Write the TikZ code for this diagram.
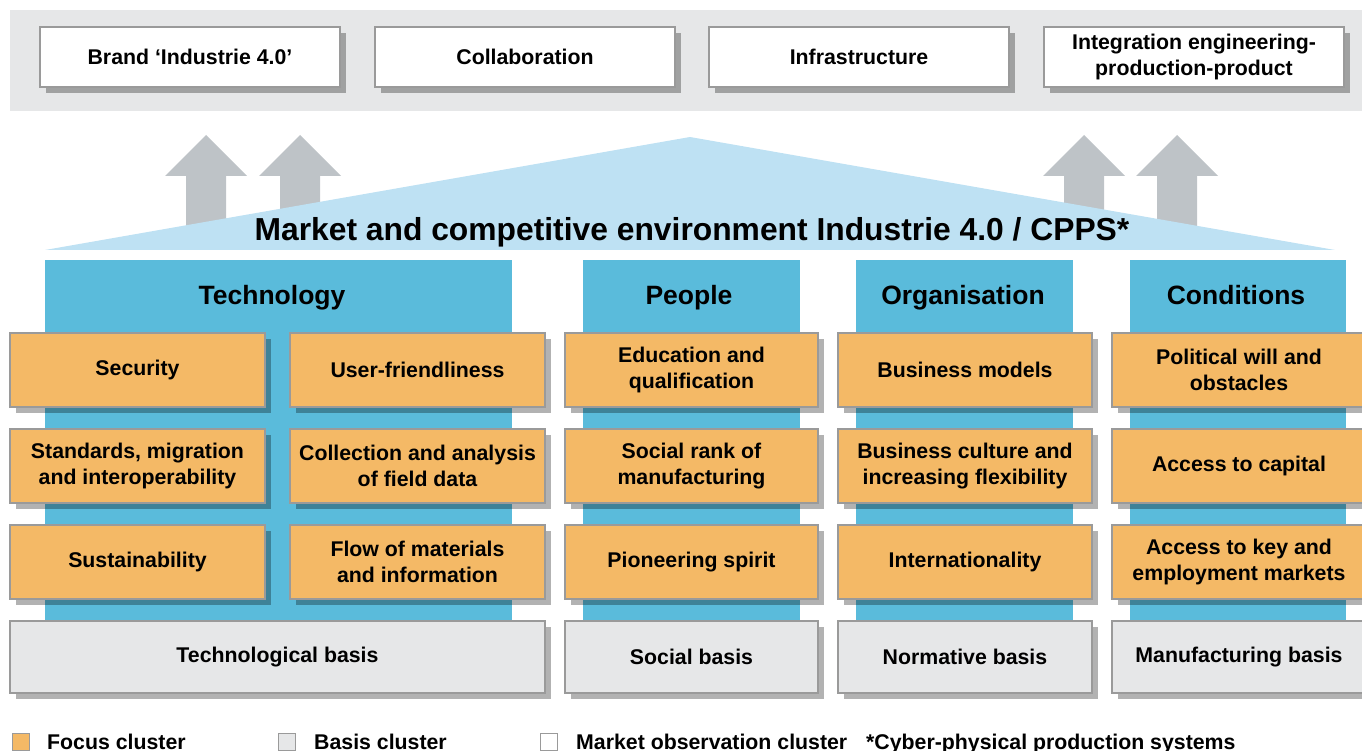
\documentclass[tikz,border=0pt]{standalone}
\usepackage{fontspec}
\setmainfont{Liberation Sans}
\usetikzlibrary{shadows}
\definecolor{bandgray}{HTML}{E6E7E8}
\definecolor{bordergray}{HTML}{9A9A9A}
\definecolor{orangebox}{HTML}{F4B966}
\definecolor{colblue}{HTML}{5ABBDB}
\definecolor{lightblue}{HTML}{BEE1F3}
\definecolor{arrowgray}{HTML}{BEC3C7}
\tikzset{
  box/.style={draw=bordergray, line width=2pt, align=center, inner sep=2pt,
    font=\fontsize{21.3}{26}\selectfont\bfseries,
    drop shadow={shadow xshift=6pt, shadow yshift=-6pt, opacity=0.3, fill=black}},
  topbox/.style={box, fill=white, minimum width=300pt, minimum height=60pt},
  focus/.style={box, fill=orangebox, minimum height=74pt},
  basis/.style={box, fill=bandgray, minimum height=72pt},
  header/.style={font=\fontsize{26.5}{30}\selectfont\bfseries, inner sep=0pt, anchor=base},
  legtext/.style={font=\fontsize{21.3}{24}\selectfont\bfseries, anchor=base west, inner sep=0pt},
  legsq/.style={draw=bordergray, line width=1.5pt, minimum size=17pt, inner sep=0pt},
  uparrow/.style={fill=arrowgray}
}
\begin{document}
\begin{tikzpicture}[x=1pt, y=-1pt]
\useasboundingbox (0,0) rectangle (1362,751);
\clip (0,0) rectangle (1362,751);
% top band
\fill[bandgray] (10,10) rectangle (1362,111);
\node[topbox] (brand) at (190,57) {Brand ‘Industrie 4.0’};
\node[topbox] (collab) at (525,57) {Collaboration};
\node[topbox] (infra) at (859,57) {Infrastructure};
\node[topbox] (integ) at (1194,57) {Integration engineering-\\production-product};
% gray arrows
\foreach \cx in {206,300,1084,1177} {
  \fill[uparrow] (\cx,135) -- (\cx+41,176) -- (\cx+20,176) -- (\cx+20,245)
     -- (\cx-20,245) -- (\cx-20,176) -- (\cx-41,176) -- cycle;
}
% roof
\fill[lightblue] (45,250) -- (690,137) -- (1335,250) -- cycle;
\node[font=\fontsize{31.8}{36}\selectfont\bfseries, inner sep=0pt, anchor=base] (title) at (692,241)
  {Market and competitive environment Industrie 4.0 / CPPS*};
% columns
\fill[colblue] (45,260) rectangle (512,628);
\fill[colblue] (583,260) rectangle (800,628);
\fill[colblue] (856,260) rectangle (1073,628);
\fill[colblue] (1130,260) rectangle (1346,628);
\node[header] (tech) at (272,305) {Technology};
\node[header] (people) at (689,305) {People};
\node[header] (org) at (963,305) {Organisation};
\node[header] (cond) at (1236,305) {Conditions};
% focus boxes
\node[focus, minimum width=255pt] (security) at (137.5,370) {Security};
\node[focus, minimum width=255pt] (user) at (417.5,370) {User-friendliness};
\node[focus, minimum width=255pt] (standards) at (137.5,466) {Standards, migration\\and interoperability};
\node[focus, minimum width=255pt] (collect) at (417.5,466) {Collection and analysis\\of field data};
\node[focus, minimum width=255pt] (sustain) at (137.5,562) {Sustainability};
\node[focus, minimum width=255pt] (flow) at (417.5,562) {Flow of materials\\and information};
\node[focus, minimum width=253pt] (edu) at (691.5,370) {Education and\\qualification};
\node[focus, minimum width=253pt] (social) at (691.5,466) {Social rank of\\manufacturing};
\node[focus, minimum width=253pt] (pioneer) at (691.5,562) {Pioneering spirit};
\node[focus, minimum width=254pt] (business) at (965,370) {Business models};
\node[focus, minimum width=254pt] (culture) at (965,466) {Business culture and\\increasing flexibility};
\node[focus, minimum width=254pt] (intl) at (965,562) {Internationality};
\node[focus, minimum width=254pt] (political) at (1239,370) {Political will and\\obstacles};
\node[focus, minimum width=254pt] (capital) at (1239,466) {Access to capital};
\node[focus, minimum width=254pt] (markets) at (1239,562) {Access to key and\\employment markets};
% basis boxes
\node[basis, minimum width=535pt] (techbasis) at (277.5,657) {Technological basis};
\node[basis, minimum width=253pt] (socbasis) at (691.5,657) {Social basis};
\node[basis, minimum width=254pt] (normbasis) at (965,657) {Normative basis};
\node[basis, minimum width=254pt] (manbasis) at (1239,657) {Manufacturing basis};
% legend
\node[legsq, fill=orangebox] (lq1) at (21,742) {};
\node[legtext] (lt1) at (47,749) {Focus cluster};
\node[legsq, fill=bandgray] (lq2) at (287,742) {};
\node[legtext] (lt2) at (314,749) {Basis cluster};
\node[legsq, fill=white] (lq3) at (549,742) {};
\node[legtext] (lt3) at (576,749) {Market observation cluster};
\node[legtext] (lt4) at (866,749) {*Cyber-physical production systems};
\end{tikzpicture}
\end{document}
